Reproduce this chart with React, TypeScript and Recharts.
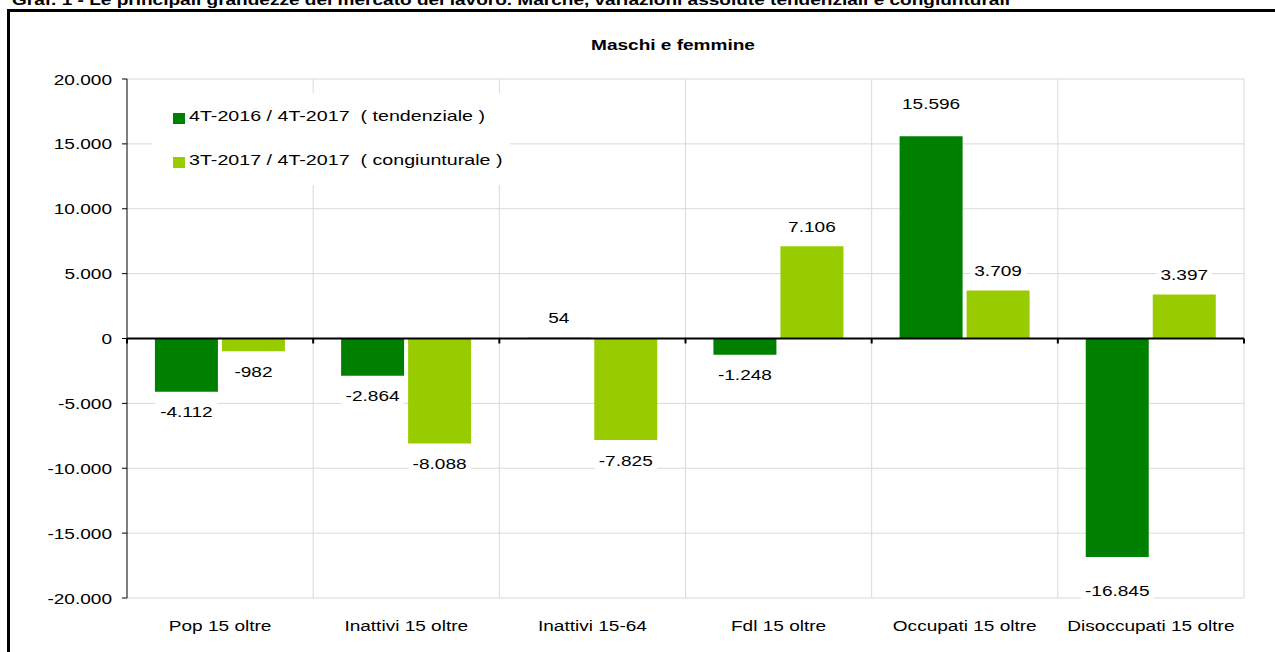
import { BarChart, Bar, XAxis, YAxis, CartesianGrid, ReferenceLine, LabelList } from 'recharts'

const CATEGORIES = ['Pop 15 oltre', 'Inattivi 15 oltre', 'Inattivi 15-64', 'Fdl 15 oltre', 'Occupati 15 oltre', 'Disoccupati 15 oltre']
const TENDENZIALE = [-4112, -2864, 54, -1248, 15596, -16845]
const CONGIUNTURALE = [-982, -8088, -7825, 7106, 3709, 3397]
const Y_TICKS = [-20000, -15000, -10000, -5000, 0, 5000, 10000, 15000, 20000]
const SERIES_NAMES = ['4T-2016 / 4T-2017  ( tendenziale )', '3T-2017 / 4T-2017  ( congiunturale )']
const SERIES_COLORS = ['#008000', '#99cc00']

const MAIN_TITLE = 'Graf. 1 - Le principali grandezze del mercato del lavoro. Marche, variazioni assolute tendenziali e congiunturali'
const CHART_TITLE = 'Maschi e femmine'

const FONT = '"Liberation Sans", Arial, sans-serif'
// the source picture is stretched horizontally, text gets the same treatment
const SX = 1.27

const data = CATEGORIES.map((name, i) => ({ name, tend: TENDENZIALE[i], cong: CONGIUNTURALE[i] }))

const fmt = (v: number) => {
  const s = Math.abs(v).toString().replace(/\B(?=(\d{3})+(?!\d))/g, '.')
  return v < 0 ? '-' + s : s
}

const textWidth = (s: string) => {
  let em = 0
  for (const c of s) em += c === '.' ? 0.278 : c === '-' ? 0.333 : 0.556
  return em * 15 * SX
}

function YTick({ x, y, payload }: any) {
  return (
    <text transform={`translate(${x - 8},${y + 5.5}) scale(${SX},1)`} textAnchor="end" fontSize={15} fontFamily={FONT} fill="#000">
      {fmt(payload.value)}
    </text>
  )
}

function XTick({ x, y, payload }: any) {
  return (
    <text transform={`translate(${x},${y + 33}) scale(${SX},1)`} textAnchor="middle" fontSize={15} fontFamily={FONT} fill="#000">
      {payload.value}
    </text>
  )
}

function ValueLabel(props: any) {
  const vb = props.viewBox ?? props
  const { x, y, width, height } = vb
  const value = Number(props.value)
  const top = Math.min(y, y + height)
  const bottom = Math.max(y, y + height)
  const off = Math.abs(value) > 15000 ? 33 : 20
  const cy = value >= 0 ? top - off : bottom + off
  const cx = x + width / 2
  const text = fmt(value)
  const w = textWidth(text) + 8
  return (
    <g>
      <rect x={cx - w / 2} y={cy - 11} width={w} height={22} fill="#fff" />
      <text transform={`translate(${cx},${cy + 5.5}) scale(${SX},1)`} textAnchor="middle" fontSize={15} fontFamily={FONT} fill="#000">
        {text}
      </text>
    </g>
  )
}

function ZeroLine(props: any) {
  const { x1, y1, x2 } = props
  const n = CATEGORIES.length
  const step = (x2 - x1) / n
  return (
    <g>
      <line x1={x1} y1={y1} x2={x2} y2={y1} stroke="#000" strokeWidth={2} />
      {Array.from({ length: n + 1 }, (_, i) => (
        <line key={i} x1={x1 + i * step} x2={x1 + i * step} y1={y1} y2={y1 + 5} stroke="#000" strokeWidth={2} />
      ))}
    </g>
  )
}

const categoryBounds = ({ offset }: any) =>
  Array.from({ length: CATEGORIES.length }, (_, i) => offset.left + ((i + 1) * offset.width) / CATEGORIES.length)

export default function App() {
  return (
    <div style={{ position: 'absolute', left: 0, top: 0, width: 1275, height: 652, overflow: 'hidden', background: '#fff', fontFamily: FONT }}>
      <div style={{ position: 'absolute', left: 7, top: 9, width: 1300, height: 700, borderLeft: '3px solid #000', borderTop: '3px solid #000' }} />
      <svg width={1275} height={60} style={{ position: 'absolute', left: 0, top: 0 }}>
        <text x={12} y={5} fontSize={14} fontWeight="bold" fontFamily={FONT} textLength={998} lengthAdjust="spacingAndGlyphs" fill="#000">
          {MAIN_TITLE}
        </text>
        <text transform={`translate(673,50) scale(${SX},1)`} textAnchor="middle" fontSize={15} fontWeight="bold" fontFamily={FONT} fill="#000">
          {CHART_TITLE}
        </text>
      </svg>
      <div style={{ position: 'absolute', left: 0, top: 0 }}>
        <BarChart width={1275} height={652} data={data} margin={{ top: 79, right: 31, bottom: 24, left: 67 }} barCategoryGap="15%" barGap={4}>
          <CartesianGrid stroke="#d9d9d9" vertical={true} horizontal={true} verticalCoordinatesGenerator={categoryBounds} />
          <XAxis dataKey="name" axisLine={false} tickLine={false} tickSize={0} tickMargin={0} height={30} interval={0} tick={<XTick />} />
          <YAxis width={60} domain={[-20000, 20000]} ticks={Y_TICKS} interval={0} axisLine={{ stroke: '#000' }} tickLine={{ stroke: '#000' }} tickSize={5} tick={<YTick />} />
          <Bar dataKey="tend" name={SERIES_NAMES[0]} fill={SERIES_COLORS[0]} isAnimationActive={false}>
            <LabelList dataKey="tend" content={<ValueLabel />} />
          </Bar>
          <Bar dataKey="cong" name={SERIES_NAMES[1]} fill={SERIES_COLORS[1]} isAnimationActive={false}>
            <LabelList dataKey="cong" content={<ValueLabel />} />
          </Bar>
          <ReferenceLine y={0} shape={<ZeroLine />} />
        </BarChart>
      </div>
      <div style={{ position: 'absolute', left: 152, top: 93, width: 358, height: 92, background: '#fff' }}>
        {SERIES_NAMES.map((name, i) => (
          <div key={name} style={{ position: 'absolute', left: 21, top: 20 + i * 44, height: 11, whiteSpace: 'pre' }}>
            <span style={{ position: 'absolute', left: 0, top: 0, width: 12, height: 11, background: SERIES_COLORS[i] }} />
            <span style={{ position: 'absolute', left: 16, top: -6, fontSize: 15, lineHeight: '18px', color: '#000', display: 'inline-block', transform: 'scaleX(1.31)', transformOrigin: 'left' }}>
              {name}
            </span>
          </div>
        ))}
      </div>
    </div>
  )
}
